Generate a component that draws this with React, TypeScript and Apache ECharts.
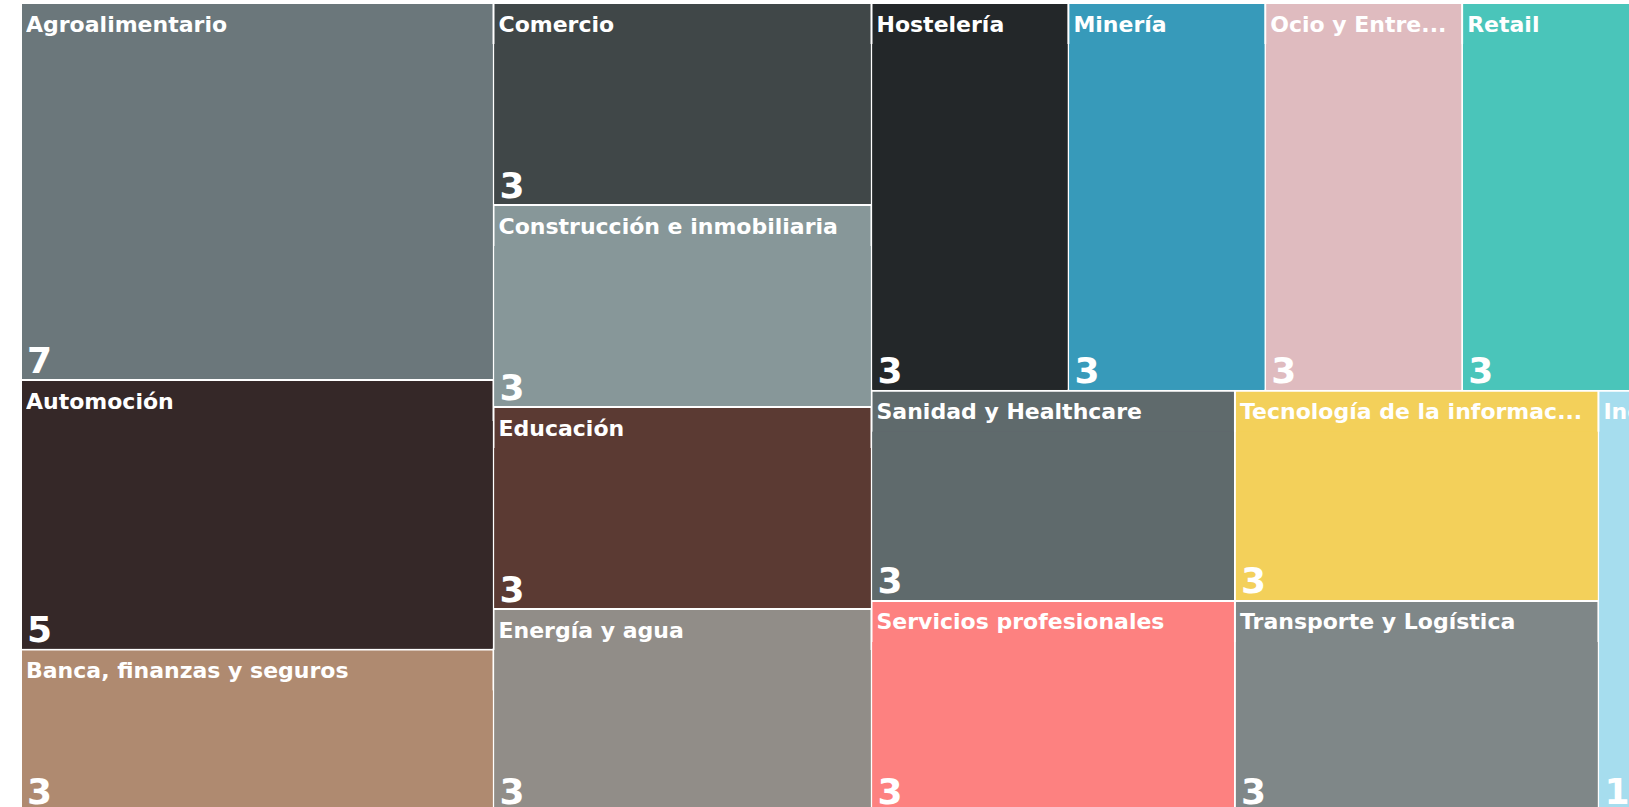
import React, { useEffect, useRef } from "react";
import * as echarts from "echarts";

const categories = [
  "Agroalimentario",
  "Automoción",
  "Banca, finanzas y seguros",
  "Comercio",
  "Construcción e inmobiliaria",
  "Educación",
  "Energía y agua",
  "Hostelería",
  "Minería",
  "Ocio y Entretenimiento",
  "Retail",
  "Sanidad y Healthcare",
  "Servicios profesionales",
  "Tecnología de la información",
  "Transporte y Logística",
  "Industria",
];
const values = [7, 5, 3, 3, 3, 3, 3, 3, 3, 3, 3, 3, 3, 3, 3, 1];
const palette = [
  "#6B777B",
  "#352828",
  "#AF8A70",
  "#404748",
  "#879799",
  "#5B3A33",
  "#918D88",
  "#232729",
  "#379ABA",
  "#DFBBBF",
  "#4AC5BA",
  "#5F6A6C",
  "#FD8180",
  "#F3D05A",
  "#7F8788",
  "#A6DDEE",
];

const FONT = "'DejaVu Sans', sans-serif";

export default function App() {
  const ref = useRef<HTMLDivElement>(null);
  useEffect(() => {
    if (!ref.current) return;
    const chart = echarts.init(ref.current, undefined, { renderer: "svg" });
    const data = categories.map((name, i) => ({
      name,
      value: values[i],
      itemStyle: { borderColor: palette[i], borderWidth: 0, gapWidth: 0 },
      children: [
        {
          name,
          value: values[i],
          itemStyle: { color: palette[i], borderColor: palette[i], borderWidth: 0 },
        },
      ],
    }));
    chart.setOption({
      animation: false,
      series: [
        {
          type: "treemap",
          left: 0,
          top: 0,
          width: "100%",
          height: "100%",
          sort: false,
          roam: false,
          nodeClick: false,
          breadcrumb: { show: false },
          data,
          levels: [
            { itemStyle: { gapWidth: 2, borderWidth: 0, borderColor: "#ffffff" } },
            {
              itemStyle: { gapWidth: 0, borderWidth: 0 },
              upperLabel: {
                show: true,
                height: 40,
                position: [0, 0],
                verticalAlign: "top",
                align: "left",
                padding: [9, 4, 0, 4],
                color: "#ffffff",
                fontFamily: FONT,
                fontWeight: "bold",
                fontSize: 22,
                overflow: "truncate",
                ellipsis: "...",
              },
            },
            {
              itemStyle: { gapWidth: 0, borderWidth: 0 },
              label: {
                show: true,
                position: "insideBottomLeft",
                padding: [0, 0, 0, 5],
                offset: [0, -4],
                lineHeight: 30,
                formatter: "{c}",
                color: "#ffffff",
                fontFamily: FONT,
                fontWeight: "bold",
                fontSize: 36,
              },
            },
          ],
        },
      ],
    });
    return () => chart.dispose();
  }, []);
  return (
    <div
      style={{
        position: "fixed",
        left: 0,
        top: 0,
        width: 1629,
        height: 807,
        overflow: "hidden",
        background: "#ffffff",
      }}
    >
      <div
        ref={ref}
        style={{ position: "absolute", left: 22, top: 4, width: 1636, height: 806 }}
      />
    </div>
  );
}
